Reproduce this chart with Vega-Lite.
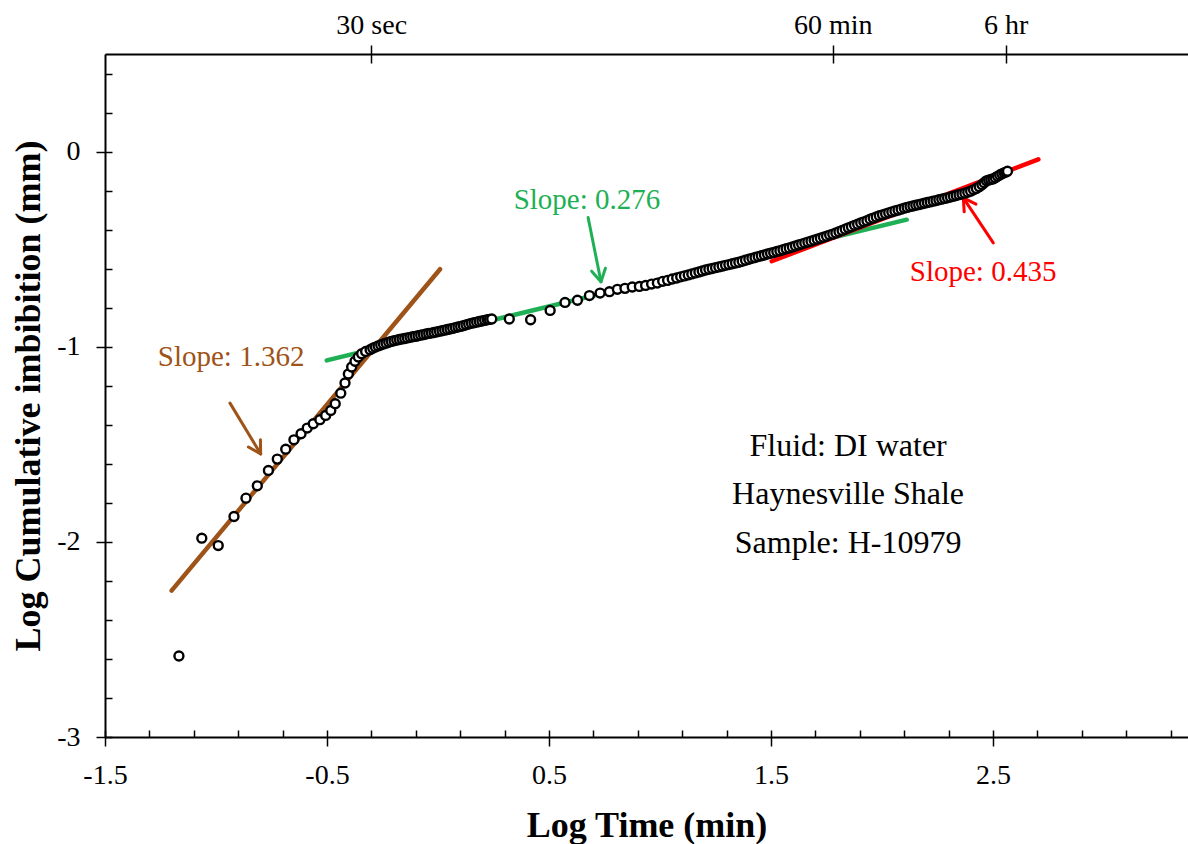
{
"$schema": "https://vega.github.io/schema/vega-lite/v6.json",
"width": 1083, "height": 683,
"autosize": {"type": "none"},
"padding": {"left": 105, "top": 54, "right": 0, "bottom": 107},
"background": "white",
"config": {
  "view": {"stroke": null},
  "font": "Liberation Serif",
  "axis": {"grid": false, "domainColor": "black", "domainWidth": 2, "tickColor": "black", "tickWidth": 1.5, "labelColor": "black", "labelFont": "Liberation Serif", "labelFontSize": 28, "labelFlush": false, "labelOverlap": false, "titleFont": "Liberation Serif", "titleFontSize": 36, "titleFontWeight": "bold", "titleColor": "black"}
},
"datasets": {
  "points": [
    {"logT": -1.167, "logI": -2.585}, {"logT": -1.064, "logI": -1.981}, {"logT": -0.99, "logI": -2.019}, {"logT": -0.919, "logI": -1.87}, {"logT": -0.865, "logI": -1.776}, {"logT": -0.814, "logI": -1.713}, {"logT": -0.764, "logI": -1.634}, {"logT": -0.724, "logI": -1.576}, {"logT": -0.686, "logI": -1.525}, {"logT": -0.649, "logI": -1.477}, {"logT": -0.617, "logI": -1.446}, {"logT": -0.589, "logI": -1.417}, {"logT": -0.562, "logI": -1.395}, {"logT": -0.532, "logI": -1.374}, {"logT": -0.506, "logI": -1.352}, {"logT": -0.483, "logI": -1.327}, {"logT": -0.463, "logI": -1.292}, {"logT": -0.438, "logI": -1.238}, {"logT": -0.419, "logI": -1.186}, {"logT": -0.404, "logI": -1.14}, {"logT": -0.389, "logI": -1.104}, {"logT": -0.374, "logI": -1.075}, {"logT": -0.359, "logI": -1.053}, {"logT": -0.344, "logI": -1.036}, {"logT": -0.326, "logI": -1.024}, {"logT": -0.306, "logI": -1.015},
    {"logT": -0.294, "logI": -1.008}, {"logT": -0.282, "logI": -1.002}, {"logT": -0.27, "logI": -0.996}, {"logT": -0.258, "logI": -0.991}, {"logT": -0.246, "logI": -0.986}, {"logT": -0.234, "logI": -0.982}, {"logT": -0.222, "logI": -0.977}, {"logT": -0.21, "logI": -0.973}, {"logT": -0.198, "logI": -0.969}, {"logT": -0.186, "logI": -0.966}, {"logT": -0.174, "logI": -0.963}, {"logT": -0.162, "logI": -0.96}, {"logT": -0.15, "logI": -0.958}, {"logT": -0.138, "logI": -0.955}, {"logT": -0.126, "logI": -0.952}, {"logT": -0.114, "logI": -0.949}, {"logT": -0.102, "logI": -0.947}, {"logT": -0.09, "logI": -0.944}, {"logT": -0.078, "logI": -0.941}, {"logT": -0.066, "logI": -0.938}, {"logT": -0.054, "logI": -0.935}, {"logT": -0.042, "logI": -0.932}, {"logT": -0.03, "logI": -0.93}, {"logT": -0.018, "logI": -0.927}, {"logT": -0.006, "logI": -0.924}, {"logT": 0.006, "logI": -0.921}, {"logT": 0.018, "logI": -0.918}, {"logT": 0.03, "logI": -0.915}, {"logT": 0.042, "logI": -0.912}, {"logT": 0.054, "logI": -0.909}, {"logT": 0.066, "logI": -0.906}, {"logT": 0.078, "logI": -0.902}, {"logT": 0.09, "logI": -0.899}, {"logT": 0.102, "logI": -0.896}, {"logT": 0.114, "logI": -0.892}, {"logT": 0.126, "logI": -0.888}, {"logT": 0.138, "logI": -0.884}, {"logT": 0.15, "logI": -0.88}, {"logT": 0.162, "logI": -0.877}, {"logT": 0.174, "logI": -0.874}, {"logT": 0.186, "logI": -0.871}, {"logT": 0.198, "logI": -0.868}, {"logT": 0.21, "logI": -0.865}, {"logT": 0.222, "logI": -0.862}, {"logT": 0.232, "logI": -0.86}, {"logT": 0.242, "logI": -0.858},
    {"logT": 0.321, "logI": -0.858}, {"logT": 0.417, "logI": -0.862}, {"logT": 0.505, "logI": -0.814}, {"logT": 0.572, "logI": -0.773}, {"logT": 0.628, "logI": -0.762}, {"logT": 0.682, "logI": -0.738}, {"logT": 0.73, "logI": -0.725}, {"logT": 0.772, "logI": -0.718}, {"logT": 0.808, "logI": -0.706}, {"logT": 0.842, "logI": -0.701}, {"logT": 0.875, "logI": -0.694}, {"logT": 0.907, "logI": -0.691}, {"logT": 0.935, "logI": -0.686}, {"logT": 0.962, "logI": -0.679}, {"logT": 0.988, "logI": -0.674}, {"logT": 1.012, "logI": -0.665}, {"logT": 1.034, "logI": -0.66}, {"logT": 1.055, "logI": -0.653}, {"logT": 1.075, "logI": -0.648},
    {"logT": 1.093, "logI": -0.642}, {"logT": 1.11, "logI": -0.637}, {"logT": 1.127, "logI": -0.632}, {"logT": 1.143, "logI": -0.627}, {"logT": 1.159, "logI": -0.622}, {"logT": 1.175, "logI": -0.617}, {"logT": 1.19, "logI": -0.612}, {"logT": 1.205, "logI": -0.607}, {"logT": 1.22, "logI": -0.603}, {"logT": 1.235, "logI": -0.599}, {"logT": 1.25, "logI": -0.595}, {"logT": 1.265, "logI": -0.591}, {"logT": 1.28, "logI": -0.587}, {"logT": 1.295, "logI": -0.583}, {"logT": 1.31, "logI": -0.579}, {"logT": 1.325, "logI": -0.575}, {"logT": 1.34, "logI": -0.571}, {"logT": 1.355, "logI": -0.567}, {"logT": 1.37, "logI": -0.562}, {"logT": 1.385, "logI": -0.557}, {"logT": 1.4, "logI": -0.552}, {"logT": 1.414, "logI": -0.547}, {"logT": 1.428, "logI": -0.543}, {"logT": 1.442, "logI": -0.538}, {"logT": 1.456, "logI": -0.534}, {"logT": 1.47, "logI": -0.53}, {"logT": 1.484, "logI": -0.525}, {"logT": 1.498, "logI": -0.521}, {"logT": 1.512, "logI": -0.517}, {"logT": 1.526, "logI": -0.512}, {"logT": 1.54, "logI": -0.508}, {"logT": 1.554, "logI": -0.503}, {"logT": 1.568, "logI": -0.498}, {"logT": 1.582, "logI": -0.494}, {"logT": 1.596, "logI": -0.489}, {"logT": 1.61, "logI": -0.484}, {"logT": 1.624, "logI": -0.479}, {"logT": 1.638, "logI": -0.474}, {"logT": 1.652, "logI": -0.469}, {"logT": 1.666, "logI": -0.464}, {"logT": 1.68, "logI": -0.459}, {"logT": 1.694, "logI": -0.454}, {"logT": 1.708, "logI": -0.449}, {"logT": 1.722, "logI": -0.444}, {"logT": 1.736, "logI": -0.439}, {"logT": 1.75, "logI": -0.434}, {"logT": 1.764, "logI": -0.428}, {"logT": 1.778, "logI": -0.423}, {"logT": 1.792, "logI": -0.417}, {"logT": 1.806, "logI": -0.411}, {"logT": 1.82, "logI": -0.404}, {"logT": 1.834, "logI": -0.398}, {"logT": 1.848, "logI": -0.391}, {"logT": 1.862, "logI": -0.385}, {"logT": 1.876, "logI": -0.378}, {"logT": 1.89, "logI": -0.372}, {"logT": 1.904, "logI": -0.366}, {"logT": 1.918, "logI": -0.36}, {"logT": 1.932, "logI": -0.354}, {"logT": 1.946, "logI": -0.347}, {"logT": 1.96, "logI": -0.341}, {"logT": 1.974, "logI": -0.335}, {"logT": 1.988, "logI": -0.329}, {"logT": 2.002, "logI": -0.324}, {"logT": 2.016, "logI": -0.319}, {"logT": 2.03, "logI": -0.314}, {"logT": 2.044, "logI": -0.309}, {"logT": 2.058, "logI": -0.304}, {"logT": 2.072, "logI": -0.3}, {"logT": 2.086, "logI": -0.295}, {"logT": 2.1, "logI": -0.29}, {"logT": 2.113, "logI": -0.286}, {"logT": 2.126, "logI": -0.282}, {"logT": 2.139, "logI": -0.279}, {"logT": 2.152, "logI": -0.275}, {"logT": 2.165, "logI": -0.272}, {"logT": 2.178, "logI": -0.268}, {"logT": 2.191, "logI": -0.265}, {"logT": 2.204, "logI": -0.261}, {"logT": 2.217, "logI": -0.258}, {"logT": 2.23, "logI": -0.254}, {"logT": 2.243, "logI": -0.251}, {"logT": 2.256, "logI": -0.247}, {"logT": 2.269, "logI": -0.244}, {"logT": 2.282, "logI": -0.24}, {"logT": 2.295, "logI": -0.237}, {"logT": 2.308, "logI": -0.233}, {"logT": 2.321, "logI": -0.229}, {"logT": 2.334, "logI": -0.225}, {"logT": 2.347, "logI": -0.221}, {"logT": 2.36, "logI": -0.217}, {"logT": 2.373, "logI": -0.213}, {"logT": 2.386, "logI": -0.208}, {"logT": 2.399, "logI": -0.203}, {"logT": 2.412, "logI": -0.196}, {"logT": 2.425, "logI": -0.189}, {"logT": 2.438, "logI": -0.18}, {"logT": 2.45, "logI": -0.17}, {"logT": 2.46, "logI": -0.16}, {"logT": 2.47, "logI": -0.15}, {"logT": 2.48, "logI": -0.146}, {"logT": 2.49, "logI": -0.143}, {"logT": 2.5, "logI": -0.14}, {"logT": 2.51, "logI": -0.134}, {"logT": 2.52, "logI": -0.127}, {"logT": 2.53, "logI": -0.12}, {"logT": 2.54, "logI": -0.114}, {"logT": 2.55, "logI": -0.109}, {"logT": 2.558, "logI": -0.105}, {"logT": 2.565, "logI": -0.101}
  ],
  "fits": [
    {"phase": "early", "logT": -1.2, "logI": -2.25}, {"phase": "early", "logT": 0.009, "logI": -0.603},
    {"phase": "middle", "logT": -0.501, "logI": -1.07}, {"phase": "middle", "logT": 2.111, "logI": -0.349},
    {"phase": "late", "logT": 1.503, "logI": -0.562}, {"phase": "late", "logT": 2.704, "logI": -0.04}
  ],
  "arrows": [
    {"phase": "early", "logT": -0.937, "logI": -1.289, "logT2": -0.799, "logI2": -1.549},
    {"phase": "early", "logT": -0.799, "logI": -1.549, "logT2": -0.8, "logI2": -1.477},
    {"phase": "early", "logT": -0.799, "logI": -1.549, "logT2": -0.854, "logI2": -1.514},
    {"phase": "middle", "logT": 0.676, "logI": -0.338, "logT2": 0.734, "logI2": -0.667},
    {"phase": "middle", "logT": 0.734, "logI": -0.667, "logT2": 0.754, "logI2": -0.598},
    {"phase": "middle", "logT": 0.734, "logI": -0.667, "logT2": 0.692, "logI2": -0.613},
    {"phase": "late", "logT": 2.501, "logI": -0.468, "logT2": 2.366, "logI2": -0.237},
    {"phase": "late", "logT": 2.366, "logI": -0.237, "logT2": 2.37, "logI2": -0.309},
    {"phase": "late", "logT": 2.366, "logI": -0.237, "logT2": 2.423, "logI2": -0.269}
  ],
  "slopeLabels": [
    {"phase": "early", "label": "Slope: 1.362", "logT": -0.932, "logI": -1.051},
    {"phase": "middle", "label": "Slope: 0.276", "logT": 0.671, "logI": -0.246},
    {"phase": "late", "label": "Slope: 0.435", "logT": 2.455, "logI": -0.615}
  ],
  "notes": [
    {"label": "Fluid: DI water", "logT": 1.847, "logI": -1.508},
    {"label": "Haynesville Shale", "logT": 1.847, "logI": -1.754},
    {"label": "Sample: H-10979", "logT": 1.847, "logI": -2.005}
  ]
},
"resolve": {"axis": {"x": "independent", "y": "independent"}},
"layer": [
  {
    "data": {"name": "fits"},
    "mark": {"type": "line", "strokeWidth": 4.5, "strokeCap": "round"},
    "encoding": {
      "x": {"field": "logT", "type": "quantitative", "scale": {"domain": [-1.5, 3.378], "nice": false, "zero": false},
            "axis": {"orient": "bottom", "values": [-1.5, -1.3, -1.1, -0.9, -0.7, -0.5, -0.3, -0.1, 0.1, 0.3, 0.5, 0.7, 0.9, 1.1, 1.3, 1.5, 1.7, 1.9, 2.1, 2.3, 2.5, 2.7, 2.9, 3.1, 3.3], "tickSize": -7, "labels": false, "domain": false, "title": null}},
      "y": {"field": "logI", "type": "quantitative", "scale": {"domain": [-3, 0.5], "nice": false, "zero": false},
            "axis": {"orient": "left", "values": [-3, -2.8, -2.6, -2.4, -2.2, -2, -1.8, -1.6, -1.4, -1.2, -1, -0.8, -0.6, -0.4, -0.2, 0, 0.2, 0.4], "tickSize": -7, "labels": false, "domain": false, "title": null}},
      "color": {"field": "phase", "type": "nominal", "scale": {"domain": ["early", "middle", "late", "note"], "range": ["#9E5318", "#1FB055", "#FF0000", "#000000"]}, "legend": null}
    }
  },
  {
    "data": {"name": "arrows"},
    "mark": {"type": "rule", "strokeWidth": 3, "strokeCap": "round"},
    "encoding": {
      "x": {"field": "logT", "type": "quantitative", "scale": {"domain": [-1.5, 3.378], "nice": false, "zero": false},
            "axis": {"orient": "top", "values": [-0.30103, 1.77815, 2.5563], "labelExpr": "datum.value < 0 ? '30 sec' : (datum.value < 2 ? '60 min' : '6 hr')", "tickSize": 9, "labelPadding": 6, "domain": true, "title": null}},
      "x2": {"field": "logT2"},
      "y": {"field": "logI", "type": "quantitative", "scale": {"domain": [-3, 0.5], "nice": false, "zero": false}, "axis": null},
      "y2": {"field": "logI2"},
      "color": {"field": "phase", "type": "nominal", "scale": {"domain": ["early", "middle", "late", "note"], "range": ["#9E5318", "#1FB055", "#FF0000", "#000000"]}, "legend": null}
    }
  },
  {
    "data": {"name": "points"},
    "mark": {"type": "point", "shape": "circle", "size": 80, "fill": "white", "stroke": "black", "strokeWidth": 2.4, "opacity": 1, "filled": false},
    "encoding": {
      "x": {"field": "logT", "type": "quantitative", "scale": {"domain": [-1.5, 3.378], "nice": false, "zero": false},
            "axis": {"orient": "bottom", "values": [-1.5, -0.5, 0.5, 1.5, 2.5], "tickSize": 9, "labelPadding": 15, "labelExpr": "datum.value < 0 ? '-' + format(-datum.value, '.1f') : format(datum.value, '.1f')", "title": "Log Time (min)", "titlePadding": 19}},
      "y": {"field": "logI", "type": "quantitative", "scale": {"domain": [-3, 0.5], "nice": false, "zero": false},
            "axis": {"orient": "left", "values": [-3, -2, -1, 0], "tickSize": 9, "labelPadding": 16, "labelExpr": "datum.value < 0 ? '-' + format(-datum.value, 'd') : format(datum.value, 'd')", "title": "Log Cumulative imbibition (mm)", "titlePadding": 9}}
    }
  },
  {
    "data": {"name": "slopeLabels"},
    "mark": {"type": "text", "fontSize": 29, "font": "Liberation Serif", "align": "center", "baseline": "middle"},
    "encoding": {
      "x": {"field": "logT", "type": "quantitative", "scale": {"domain": [-1.5, 3.378], "nice": false, "zero": false},
            "axis": {"orient": "top", "values": [-0.30103, 1.77815, 2.5563], "tickSize": -9, "labels": false, "domain": false, "title": null}},
      "y": {"field": "logI", "type": "quantitative", "scale": {"domain": [-3, 0.5], "nice": false, "zero": false}, "axis": null},
      "text": {"field": "label"},
      "color": {"field": "phase", "type": "nominal", "scale": {"domain": ["early", "middle", "late", "note"], "range": ["#9E5318", "#1FB055", "#FF0000", "#000000"]}, "legend": null}
    }
  },
  {
    "data": {"name": "notes"},
    "mark": {"type": "text", "fontSize": 32, "font": "Liberation Serif", "align": "center", "baseline": "middle", "color": "black"},
    "encoding": {
      "x": {"field": "logT", "type": "quantitative", "scale": {"domain": [-1.5, 3.378], "nice": false, "zero": false}, "axis": null},
      "y": {"field": "logI", "type": "quantitative", "scale": {"domain": [-3, 0.5], "nice": false, "zero": false}, "axis": null},
      "text": {"field": "label"}
    }
  }
]
}
